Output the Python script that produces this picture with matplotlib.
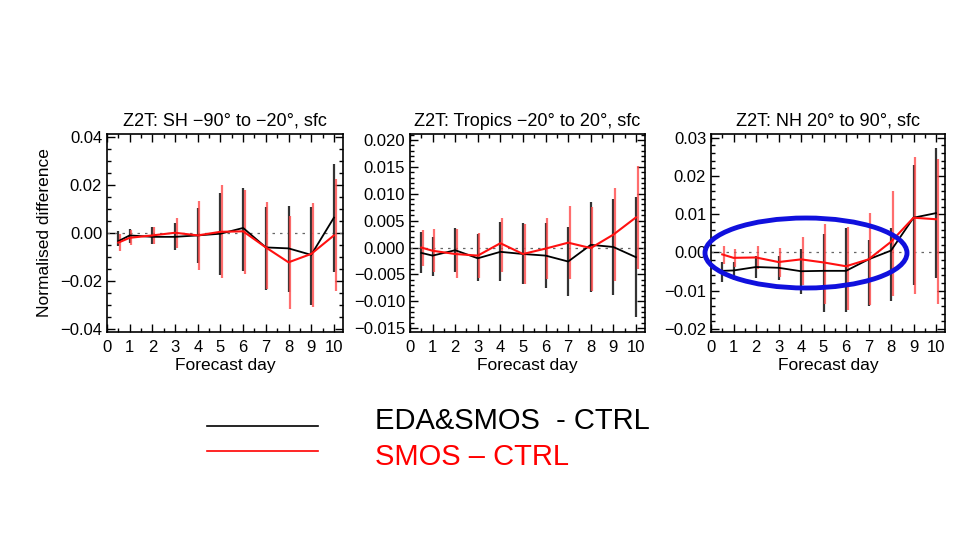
import matplotlib
matplotlib.use('Agg')
import matplotlib.pyplot as plt
from matplotlib.patches import Ellipse
from matplotlib.ticker import MultipleLocator, FuncFormatter

plt.rcParams['font.family'] = ['Liberation Sans', 'DejaVu Sans']

# forecast days
days = [0.5, 1, 2, 3, 4, 5, 6, 7, 8, 9, 10]

# SH -90 to -20
sh_eda = [-0.0034, -0.0010, -0.0016, -0.0016, -0.0010, -0.0003, 0.0021, -0.0060, -0.0064, -0.0091, 0.0064]
sh_eda_hi = [0.0009, 0.0016, 0.0027, 0.0043, 0.0105, 0.0168, 0.0189, 0.0107, 0.0111, 0.0109, 0.0286]
sh_eda_lo = [-0.0056, -0.0043, -0.0046, -0.0072, -0.0123, -0.0173, -0.0157, -0.0238, -0.0244, -0.0298, -0.0161]
sh_smos = [-0.0040, -0.0020, -0.0010, 0.0001, -0.0010, 0.0005, 0.0007, -0.0060, -0.0122, -0.0087, -0.0010]
sh_smos_hi = [-0.0005, 0.0011, 0.0026, 0.0063, 0.0132, 0.0199, 0.0179, 0.0129, 0.0071, 0.0126, 0.0226]
sh_smos_lo = [-0.0074, -0.0052, -0.0047, -0.0064, -0.0153, -0.0188, -0.0169, -0.0234, -0.0318, -0.0309, -0.0242]

# Tropics -20 to 20
tr_eda = [-0.0010, -0.0015, -0.0005, -0.0020, -0.0008, -0.0012, -0.0015, -0.0026, 0.0005, 0.0001, -0.0018]
tr_eda_hi = [0.0029, 0.0019, 0.0037, 0.0025, 0.0048, 0.0045, 0.0045, 0.0038, 0.0085, 0.0091, 0.0093]
tr_eda_lo = [-0.0047, -0.0052, -0.0046, -0.0063, -0.0063, -0.0067, -0.0076, -0.0091, -0.0082, -0.0089, -0.0129]
tr_smos = [0.0000, -0.0006, -0.0012, -0.0015, 0.0008, -0.0012, -0.0002, 0.0009, -0.0001, 0.0024, 0.0056]
tr_smos_hi = [0.0033, 0.0034, 0.0034, 0.0027, 0.0054, 0.0044, 0.0054, 0.0077, 0.0076, 0.0111, 0.0152]
tr_smos_lo = [-0.0035, -0.0045, -0.0057, -0.0056, -0.0046, -0.0068, -0.0059, -0.0058, -0.0080, -0.0063, -0.0039]

# NH 20 to 90
nh_eda = [-0.0048, -0.0047, -0.0038, -0.0040, -0.0049, -0.0048, -0.0048, -0.0018, 0.0005, 0.0091, 0.0103]
nh_eda_hi = [-0.0026, -0.0024, -0.0008, -0.0008, 0.0009, 0.0049, 0.0063, 0.0033, 0.0063, 0.0228, 0.0274]
nh_eda_lo = [-0.0076, -0.0072, -0.0068, -0.0072, -0.0109, -0.0155, -0.0155, -0.0141, -0.0128, -0.0084, -0.0068]
nh_smos = [-0.0005, -0.0014, -0.0013, -0.0025, -0.0018, -0.0026, -0.0036, -0.0018, 0.0028, 0.0091, 0.0087]
nh_smos_hi = [0.0018, 0.0009, 0.0018, 0.0011, 0.0041, 0.0074, 0.0066, 0.0103, 0.0162, 0.0249, 0.0245]
nh_smos_lo = [-0.0030, -0.0038, -0.0043, -0.0063, -0.0084, -0.0134, -0.0151, -0.0138, -0.0113, -0.0109, -0.0134]

titles = ['Z2T: SH \u221290\u00b0 to \u221220\u00b0, sfc',
          'Z2T: Tropics \u221220\u00b0 to 20\u00b0, sfc',
          'Z2T: NH 20\u00b0 to 90\u00b0, sfc']

panels = [
    (sh_eda, sh_eda_lo, sh_eda_hi, sh_smos, sh_smos_lo, sh_smos_hi),
    (tr_eda, tr_eda_lo, tr_eda_hi, tr_smos, tr_smos_lo, tr_smos_hi),
    (nh_eda, nh_eda_lo, nh_eda_hi, nh_smos, nh_smos_lo, nh_smos_hi),
]

ylims = [(-0.0412, 0.0412), (-0.0157, 0.0211), (-0.0208, 0.0310)]
ymajor = [0.02, 0.005, 0.01]
yminor = [0.005, 0.001, 0.002]
yfmt = ['%.2f', '%.3f', '%.2f']
lefts = [107 / 960, 410 / 960, 711 / 960]
widths = [236 / 960, 235 / 960, 234 / 960]


def make_fmt(f):
    def fmt(v, pos):
        if abs(v) < 1e-12:
            return f % 0
        return (f % v).replace('-', '\u2212')
    return fmt


fig = plt.figure(figsize=(9.6, 5.37), dpi=100)

for i in range(3):
    eda, eda_lo, eda_hi, smos, smos_lo, smos_hi = panels[i]
    ax = fig.add_axes([lefts[i], 1 - 332 / 537, widths[i], 198 / 537])
    ax.axhline(0, color='#666666', linestyle=(0, (2, 4)), lw=0.9)
    # error bars
    ax.vlines(days, eda_lo, eda_hi, color='#333333', lw=1.6)
    ax.vlines([d + 0.07 for d in days], smos_lo, smos_hi, color='#ff4a4a', lw=1.6, alpha=0.8)
    ax.plot(days, eda, color='black', lw=1.3)
    ax.plot(days, smos, color='#ff1010', lw=1.5)
    ax.set_xlim(0, 10.4)
    ax.set_ylim(*ylims[i])
    ax.xaxis.set_major_locator(MultipleLocator(1))
    ax.xaxis.set_minor_locator(MultipleLocator(0.5))
    ax.yaxis.set_major_locator(MultipleLocator(ymajor[i]))
    ax.yaxis.set_minor_locator(MultipleLocator(yminor[i]))
    ax.yaxis.set_major_formatter(FuncFormatter(make_fmt(yfmt[i])))
    ax.tick_params(which='both', direction='in', top=True, right=True, labelsize=12)
    ax.tick_params(which='major', length=6, width=1)
    ax.tick_params(which='minor', length=3, width=1)
    ax.tick_params(axis='x', pad=6)
    for s in ax.spines.values():
        s.set_linewidth(1.2)
    ax.set_title(titles[i], fontsize=13, pad=6)
    ax.set_xlabel('Forecast day', fontsize=12.5, labelpad=2)
    if i == 0:
        ax.set_ylabel('Normalised difference', fontsize=12.5, labelpad=6)

# blue ellipse highlight on NH panel
ell = Ellipse((806 / 960, 1 - 253 / 537), 202 / 960, 70 / 537, transform=fig.transFigure,
              fill=False, edgecolor='#1010dd', lw=3.5)
fig.patches.append(ell)

# legend
fig.add_artist(plt.Line2D([207 / 960, 318 / 960], [1 - 426 / 537, 1 - 426 / 537],
                          transform=fig.transFigure, color='black', lw=1.2))
fig.add_artist(plt.Line2D([207 / 960, 318 / 960], [1 - 451 / 537, 1 - 451 / 537],
                          transform=fig.transFigure, color='red', lw=1.2))
fig.text(375 / 960, 1 - 421 / 537, 'EDA&SMOS  - CTRL', fontsize=21, color='black', va='center')
fig.text(375 / 960, 1 - 457 / 537, 'SMOS \u2013 CTRL', fontsize=21, color='red', va='center')

fig.savefig('out.png', dpi=100)
